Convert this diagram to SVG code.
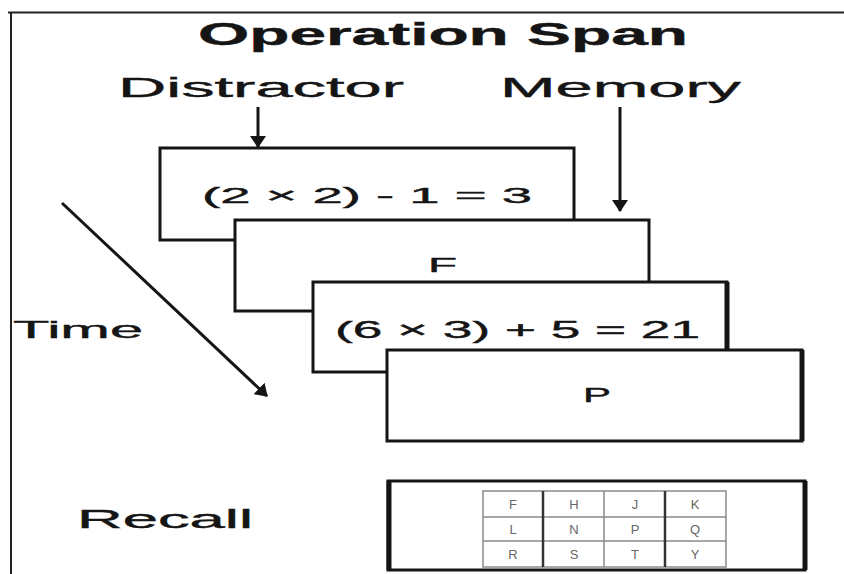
<svg xmlns="http://www.w3.org/2000/svg" width="844" height="574" viewBox="0 0 844 574">
<style>
.t{font-family:"Liberation Sans",Arial,sans-serif;fill:#151515;stroke:#151515;stroke-width:0.4}
.box{fill:#fff;stroke:#151515;stroke-width:3}
.edge{stroke:#151515;stroke-width:5}
.ln{stroke:#151515;stroke-width:3;fill:none}
.g{stroke:#8a8a8a;stroke-width:1.5;fill:none}
.gd{stroke:#333;stroke-width:2.5}
.gl{font-family:"Liberation Sans",Arial,sans-serif;fill:#666;font-size:13px;text-anchor:middle}
</style>
<defs>
<marker id="ah" viewBox="0 0 12 16" refX="11" refY="8" markerWidth="12" markerHeight="16" orient="auto" markerUnits="userSpaceOnUse">
<path d="M0,0 L12,8 L0,16 z" fill="#151515"/>
</marker>
</defs>
<rect width="844" height="574" fill="#fff"/>
<g id="frame">
<line x1="8" y1="12.5" x2="844" y2="12.5" stroke="#222" stroke-width="2"/>
<line x1="11" y1="12" x2="11" y2="574" stroke="#222" stroke-width="2"/>
</g>
<g id="title"><text class="t" x="198" y="45" font-size="32" font-weight="bold" textLength="490" lengthAdjust="spacingAndGlyphs">Operation Span</text></g>
<g id="distractor-label"><text class="t" x="118" y="97" font-size="28" textLength="286" lengthAdjust="spacingAndGlyphs">Distractor</text></g>
<g id="memory-label"><text class="t" x="500" y="97" font-size="28" textLength="241" lengthAdjust="spacingAndGlyphs">Memory</text></g>
<g id="time-label"><text class="t" x="13" y="338" font-size="24" textLength="130" lengthAdjust="spacingAndGlyphs">Time</text></g>
<g id="recall-label"><text class="t" x="77" y="528" font-size="25" textLength="176" lengthAdjust="spacingAndGlyphs">Recall</text></g>
<g id="box1">
<rect class="box" x="160" y="148" width="414" height="92"/>
<text class="t" x="202" y="203" font-size="22" textLength="330" lengthAdjust="spacingAndGlyphs">(2 × 2) - 1 = 3</text>
</g>
<g id="box2">
<rect class="box" x="235" y="220" width="414" height="91"/>
<text class="t" x="428" y="272" font-size="21" textLength="29" lengthAdjust="spacingAndGlyphs">F</text>
</g>
<g id="box3">
<rect class="box" x="313" y="282" width="414" height="90"/>
<line class="edge" x1="727" y1="282" x2="727" y2="350"/>
<text class="t" x="335" y="338" font-size="24" textLength="365" lengthAdjust="spacingAndGlyphs">(6 × 3) + 5 = 21</text>
</g>
<g id="box4">
<rect class="box" x="387" y="350" width="415" height="91"/>
<line class="edge" x1="802" y1="350" x2="802" y2="441"/>
<text class="t" x="583" y="402" font-size="20" textLength="28" lengthAdjust="spacingAndGlyphs">P</text>
</g>
<g id="recall-box">
<rect class="box" x="388" y="481" width="417" height="89"/>
<line class="edge" x1="805" y1="481" x2="805" y2="570"/>
<line class="edge" x1="389" y1="481" x2="389" y2="570"/>
<rect class="g" x="483" y="491" width="243" height="76"/>
<line class="g" x1="483" y1="517" x2="726" y2="517"/>
<line class="g" x1="483" y1="541" x2="726" y2="541"/>
<line class="g" x1="604" y1="491" x2="604" y2="567"/>
<line class="gd" x1="543" y1="491" x2="543" y2="567"/>
<line class="gd" x1="665" y1="491" x2="665" y2="567"/>
<text class="gl" x="513" y="509">F</text><text class="gl" x="574" y="509">H</text><text class="gl" x="635" y="509">J</text><text class="gl" x="695" y="509">K</text>
<text class="gl" x="513" y="534">L</text><text class="gl" x="574" y="534">N</text><text class="gl" x="635" y="534">P</text><text class="gl" x="695" y="534">Q</text>
<text class="gl" x="513" y="559">R</text><text class="gl" x="574" y="559">S</text><text class="gl" x="635" y="559">T</text><text class="gl" x="695" y="559">Y</text>
</g>
<g id="connectors">
<line class="ln" x1="258" y1="107" x2="258" y2="147" marker-end="url(#ah)"/>
<line class="ln" x1="620" y1="107" x2="620" y2="211" marker-end="url(#ah)"/>
<line class="ln" x1="62" y1="203" x2="267" y2="396" marker-end="url(#ah)"/>
</g>
</svg>
